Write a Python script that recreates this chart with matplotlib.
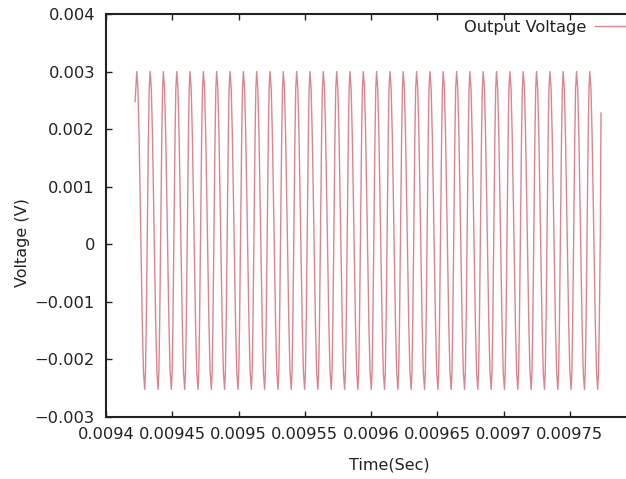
import numpy as np
import matplotlib
matplotlib.use("Agg")
import matplotlib.pyplot as plt

# values
start_point = (0.0094220, 0.00248)
end_point = (0.0097736, 0.00228)

# time of every positive peak
peak_times = [0.0094232, 0.0094333, 0.0094433, 0.0094534, 0.0094634,
              0.0094735, 0.0094835, 0.0094936, 0.0095037, 0.0095137,
              0.0095238, 0.0095338, 0.0095439, 0.0095539, 0.0095640,
              0.0095741, 0.0095841, 0.0095942, 0.0096042, 0.0096143,
              0.0096243, 0.0096344, 0.0096445, 0.0096545, 0.0096646,
              0.0096746, 0.0096847, 0.0096947, 0.0097048, 0.0097149,
              0.0097249, 0.0097350, 0.0097450, 0.0097551, 0.0097651]

# shape of one cycle, read relative to its peak (s after peak, volts):
# rounded spike at the top, slower fall, trough, faster rise
cycle_dt = [0.0, 0.9e-6, 1.8e-6, 3.0e-6, 4.2e-6, 5.1e-6, 6.0e-6,
            6.6e-6, 7.2e-6, 8.0e-6, 8.8e-6, 9.4e-6]
cycle_v = [0.0030, 0.0027, 0.00186, 0.00024, -0.00138, -0.00222, -0.00252,
           -0.00222, -0.00138, 0.00024, 0.00186, 0.0027]

xticks = [0.0094, 0.00945, 0.0095, 0.00955, 0.0096, 0.00965, 0.0097, 0.00975]
xlabels = ["0.0094", "0.00945", "0.0095", "0.00955", "0.0096", "0.00965",
           "0.0097", "0.00975"]
yticks = [-0.003, -0.002, -0.001, 0, 0.001, 0.002, 0.003, 0.004]
ylabels = ["\u22120.003", "\u22120.002", "\u22120.001", "0", "0.001", "0.002",
           "0.003", "0.004"]

# build the trace from the peaks and the cycle shape
t = [start_point[0]]
v = [start_point[1]]
for pk in peak_times:
    for dt, vv in zip(cycle_dt, cycle_v):
        if pk + dt < end_point[0]:
            t.append(pk + dt)
            v.append(vv)
t.append(end_point[0])
v.append(end_point[1])

plt.rcParams['font.family'] = ['DejaVu Sans']

W, H = 626, 479
fig = plt.figure(figsize=(W / 100, H / 100), dpi=100)
ax = fig.add_axes([106 / W, 62 / H, 530 / W, 403 / H])

ax.plot(t, v, color='#dc8590', lw=1.0, label='Output Voltage')

ax.set_xlim(0.0094, 0.0098)
ax.set_ylim(-0.003, 0.004)
ax.set_xticks(xticks)
ax.set_xticklabels(xlabels)
ax.set_yticks(yticks)
ax.set_yticklabels(ylabels)

ax.tick_params(direction='in', length=4, width=1, top=True, right=True,
               labelsize=11.7, colors='#222222', pad=8)
ax.tick_params(axis='x', pad=7)
for s in ax.spines.values():
    s.set_linewidth(1.5)
    s.set_color('#222222')

ax.set_xlabel('Time(Sec)', fontsize=11.5, color='#222222')
ax.xaxis.set_label_coords((389 - 106) / 530, -40 / 403)
ax.set_ylabel('Voltage (V)', fontsize=11.5, color='#222222')
ax.yaxis.set_label_coords((30 - 106) / 530, 174 / 403)

leg = ax.legend(loc='upper right', bbox_to_anchor=(1.02, 1.01), frameon=False,
                markerfirst=False, handlelength=2.6, handletextpad=0.5,
                fontsize=11.7, borderaxespad=0.2)
for txt in leg.get_texts():
    txt.set_color('#222222')

fig.savefig('out.png', dpi=100)
